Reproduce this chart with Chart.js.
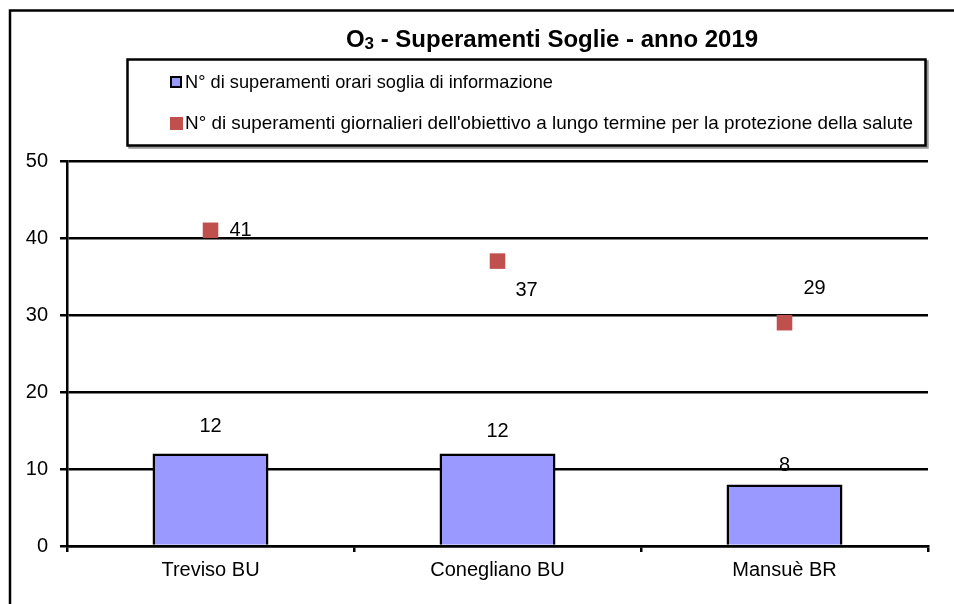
<!DOCTYPE html>
<html>
<head>
<meta charset="utf-8">
<script src="https://cdn.jsdelivr.net/npm/chart.js@4.4.0/dist/chart.umd.min.js"></script>
<style>
    html, body { margin: 0; padding: 0; background: #fff; }
    #wrap { width: 954px; height: 604px; }
</style>
</head>
<body>
<div id="wrap"><canvas id="o3Chart" width="954" height="604"></canvas></div>
<script>
// Data
const stations = ['Treviso BU', 'Conegliano BU', 'Mansuè BR'];
const hourlyInfoThreshold = [12, 12, 8];
const dailyLongTermTarget = [41, 37, 29];
const yTicks = [0, 10, 20, 30, 40, 50];
const seriesLabels = [
    'N° di superamenti orari soglia di informazione',
    "N° di superamenti giornalieri dell'obiettivo a lungo termine per la protezione della salute"
];

// where the value labels sit relative to their mark (px)
const barLabelOffsets = [-27, -22, -19];
const pointLabelOffsets = [[30, 0], [29, 29], [30, -34]];

const FONT = "'Liberation Sans', Arial, sans-serif";
const BAR_COLOR = '#9999FF';
const POINT_COLOR = '#C0504D';

// Frame, title, boxed legend and value labels
const decorations = {
    id: 'decorations',
    afterDraw(chart) {
        const ctx = chart.ctx;
        ctx.save();

        // outer frame (only left and top edges are inside the picture)
        ctx.strokeStyle = '#000';
        ctx.lineWidth = 2.5;
        ctx.beginPath();
        ctx.moveTo(10, 620);
        ctx.lineTo(10, 10.5);
        ctx.lineTo(970, 10.5);
        ctx.stroke();

        // title with subscript
        ctx.fillStyle = '#000';
        ctx.textAlign = 'left';
        ctx.textBaseline = 'alphabetic';
        const big = 'bold 24px ' + FONT;
        const small = 'bold 17px ' + FONT;
        const rest = ' - Superamenti Soglie - anno 2019';
        ctx.font = big;
        const wO = ctx.measureText('O').width;
        const wRest = ctx.measureText(rest).width;
        ctx.font = small;
        const w3 = ctx.measureText('3').width;
        let x = 552 - (wO + w3 + wRest) / 2;
        const base = 47;
        ctx.font = big;
        ctx.fillText('O', x, base);
        x += wO;
        ctx.font = small;
        ctx.fillText('3', x, base + 2);
        x += w3;
        ctx.font = big;
        ctx.fillText(rest, x, base);

        // legend box
        ctx.lineWidth = 2.5;
        ctx.strokeStyle = '#999';
        ctx.strokeRect(129.5, 61.5, 798, 86);
        ctx.strokeStyle = '#000';
        ctx.fillStyle = '#fff';
        ctx.fillRect(127.5, 59.5, 798, 86);
        ctx.strokeRect(127.5, 59.5, 798, 86);

        // legend items
        const ds = chart.data.datasets;
        ctx.fillStyle = ds[0].backgroundColor;
        ctx.fillRect(171, 77, 10, 10);
        ctx.lineWidth = 2;
        ctx.strokeStyle = '#000';
        ctx.strokeRect(171, 77, 10, 10);
        ctx.fillStyle = ds[1].backgroundColor;
        ctx.fillRect(170, 117, 13, 13);

        ctx.fillStyle = '#000';
        ctx.font = '19px ' + FONT;
        ctx.textBaseline = 'middle';
        ctx.fillText(ds[0].label, 185, 83, 368);
        ctx.fillText(ds[1].label, 185, 124, 728);

        // value labels
        ctx.font = '20px ' + FONT;
        ctx.textAlign = 'center';
        chart.getDatasetMeta(0).data.forEach(function(el, i) {
            ctx.fillText(String(ds[0].data[i]), el.x, el.y + barLabelOffsets[i]);
        });
        chart.getDatasetMeta(1).data.forEach(function(el, i) {
            const off = pointLabelOffsets[i];
            ctx.fillText(String(ds[1].data[i]), el.x + off[0], el.y + off[1]);
        });

        ctx.restore();
    }
};

document.addEventListener('DOMContentLoaded', function() {
    const ctx = document.getElementById('o3Chart').getContext('2d');

    new Chart(ctx, {
        type: 'bar',
        data: {
            labels: stations,
            datasets: [
                {
                    label: seriesLabels[0],
                    data: hourlyInfoThreshold,
                    backgroundColor: BAR_COLOR,
                    borderColor: '#000',
                    borderWidth: 2.5,
                    categoryPercentage: 1,
                    barPercentage: 0.404,
                    order: 2
                },
                {
                    type: 'line',
                    label: seriesLabels[1],
                    data: dailyLongTermTarget,
                    backgroundColor: POINT_COLOR,
                    borderColor: POINT_COLOR,
                    showLine: false,
                    pointStyle: 'rect',
                    pointRadius: 11,
                    pointBorderWidth: 0,
                    order: 1
                }
            ]
        },
        options: {
            responsive: false,
            animation: false,
            devicePixelRatio: 1,
            layout: {
                padding: { left: 0, right: 26, top: 161, bottom: 18 }
            },
            plugins: {
                legend: { display: false },
                title: { display: false },
                tooltip: { enabled: false }
            },
            scales: {
                x: {
                    offset: true,
                    grid: {
                        offset: true,
                        drawOnChartArea: false,
                        drawTicks: true,
                        tickLength: 6,
                        color: '#000',
                        lineWidth: 2.5
                    },
                    border: { display: true, color: '#000', width: 2.5 },
                    ticks: {
                        color: '#000',
                        padding: 6,
                        font: { family: FONT, size: 20 }
                    },
                    afterFit: function(scale) { scale.height = 40; }
                },
                y: {
                    min: 0,
                    max: 50,
                    afterBuildTicks: function(scale) {
                        scale.ticks = yTicks.map(v => ({ value: v }));
                    },
                    grid: {
                        color: '#000',
                        lineWidth: 2.5,
                        drawTicks: true,
                        tickLength: 7
                    },
                    border: { display: true, color: '#000', width: 2.5 },
                    ticks: {
                        color: '#000',
                        padding: 12,
                        font: { family: FONT, size: 20 }
                    },
                    afterFit: function(scale) { scale.width = 67; }
                }
            }
        },
        plugins: [decorations]
    });
});
</script>
</body>
</html>
